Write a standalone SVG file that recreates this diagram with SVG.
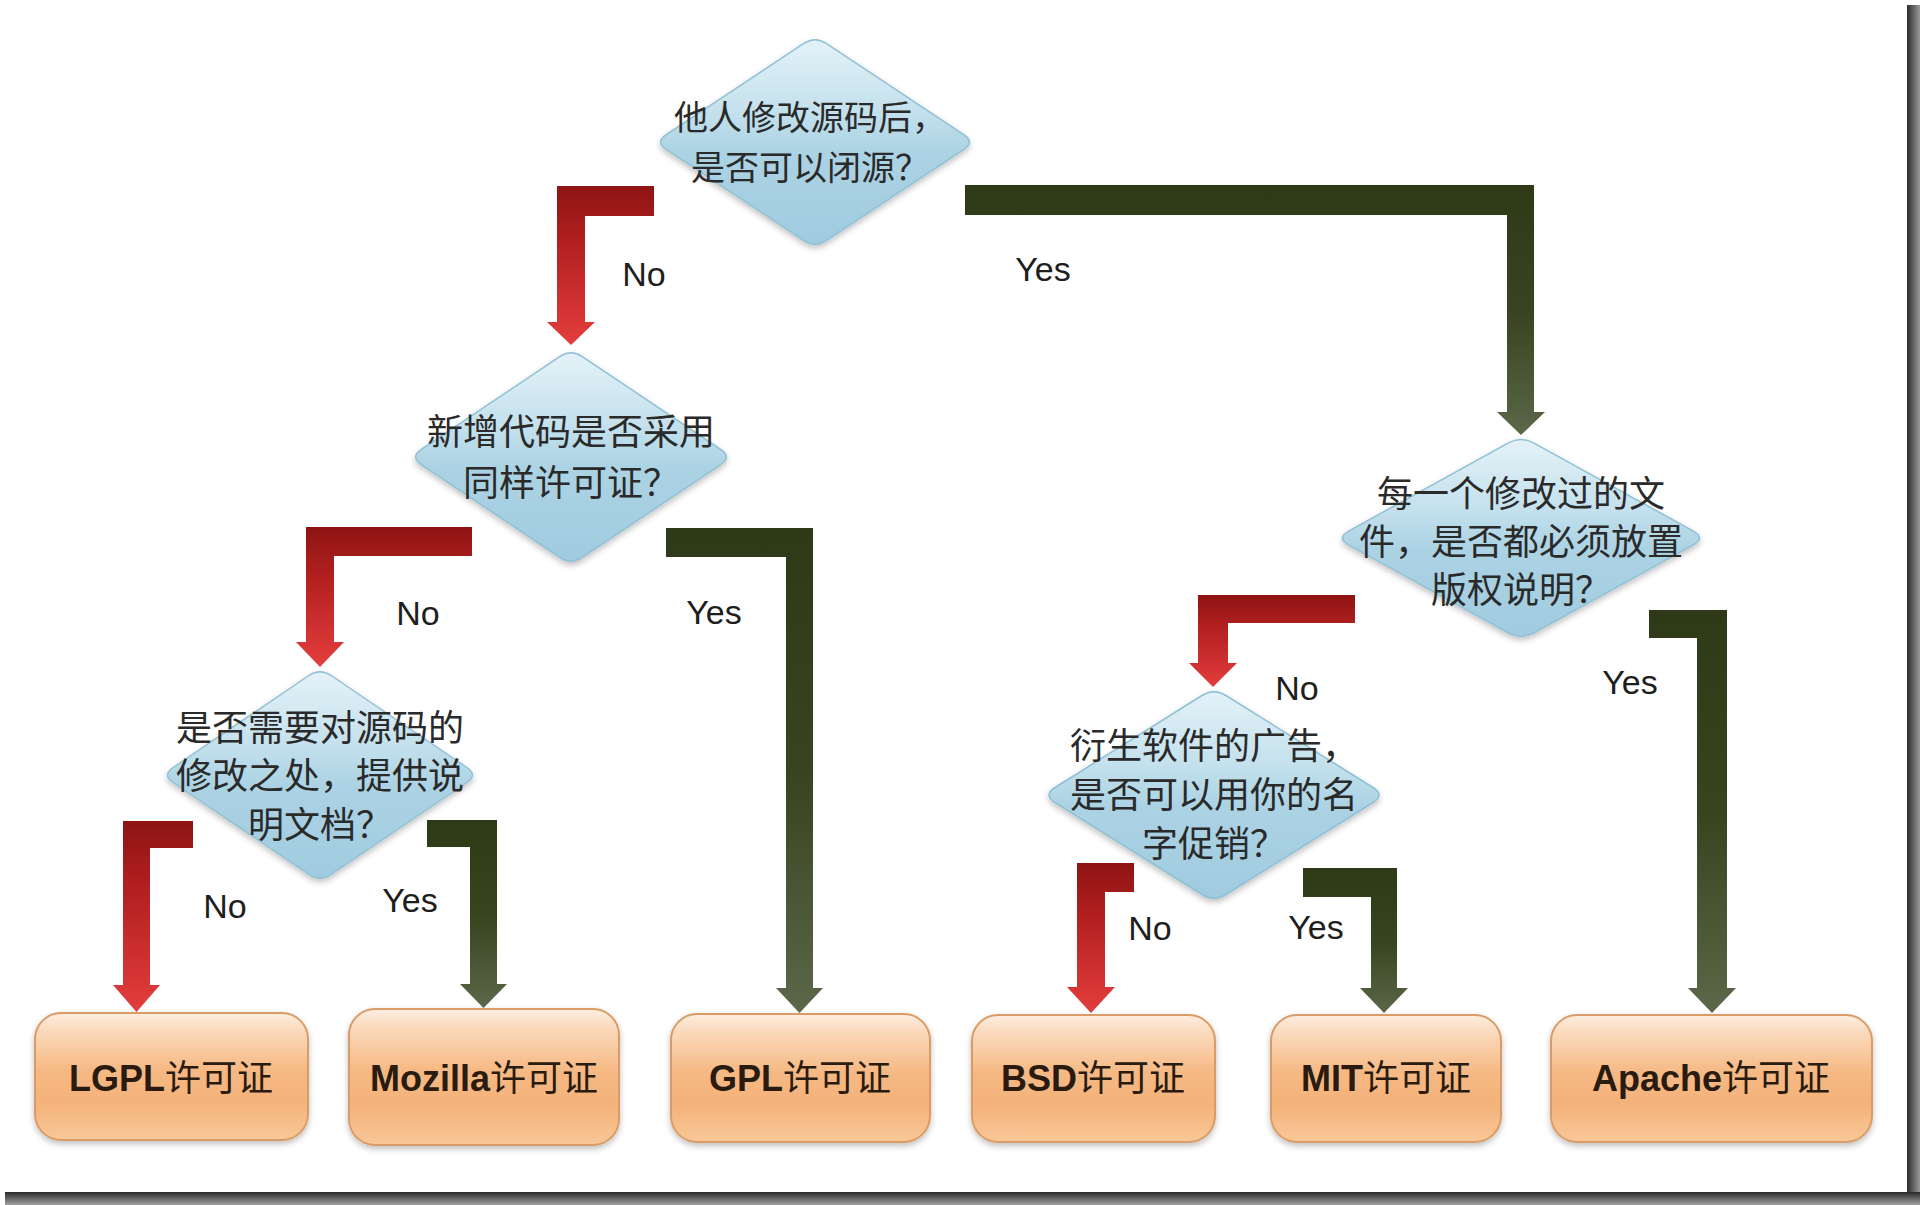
<svg xmlns="http://www.w3.org/2000/svg" width="1920" height="1205" viewBox="0 0 1920 1205">
<defs>
<linearGradient id="gRed" x1="0" y1="0" x2="0" y2="1">
<stop offset="0" stop-color="#8e1414"/>
<stop offset="0.35" stop-color="#b21f1f"/>
<stop offset="1" stop-color="#e43d3d"/>
</linearGradient>
<linearGradient id="gGreen" x1="0" y1="0" x2="0" y2="1">
<stop offset="0" stop-color="#2e3917"/>
<stop offset="0.5" stop-color="#38431f"/>
<stop offset="1" stop-color="#5a6849"/>
</linearGradient>
<linearGradient id="gDia" x1="0" y1="0" x2="0" y2="1">
<stop offset="0" stop-color="#e4f2f8"/>
<stop offset="0.35" stop-color="#c4e1ed"/>
<stop offset="0.55" stop-color="#acd3e4"/>
<stop offset="1" stop-color="#a0cbdf"/>
</linearGradient>
<linearGradient id="gBox" x1="0" y1="0" x2="0" y2="1">
<stop offset="0" stop-color="#fdeee0"/>
<stop offset="0.12" stop-color="#fbdcc0"/>
<stop offset="0.45" stop-color="#f6b984"/>
<stop offset="0.7" stop-color="#f4b27a"/>
<stop offset="1" stop-color="#f8c898"/>
</linearGradient>
<linearGradient id="gShR" x1="0" y1="0" x2="1" y2="0">
<stop offset="0" stop-color="#2a2a2a"/>
<stop offset="1" stop-color="#9a9a9a"/>
</linearGradient>
<linearGradient id="gShB" x1="0" y1="0" x2="0" y2="1">
<stop offset="0" stop-color="#2a2a2a"/>
<stop offset="1" stop-color="#a0a0a0"/>
</linearGradient>
<filter id="soft" x="-10%" y="-10%" width="120%" height="130%">
<feGaussianBlur in="SourceAlpha" stdDeviation="3"/>
<feOffset dx="0" dy="3" result="b"/>
<feComponentTransfer><feFuncA type="linear" slope="0.25"/></feComponentTransfer>
<feMerge><feMergeNode/><feMergeNode in="SourceGraphic"/></feMerge>
</filter>
</defs>
<style>
.dia{fill:url(#gDia);stroke:#8fc0d5;stroke-width:1.5}
.box{fill:url(#gBox);stroke:#d99c66;stroke-width:2}
.red{fill:url(#gRed)}
.green{fill:url(#gGreen)}
.q{font-family:"Noto Sans CJK SC","Noto Sans CJK TC",sans-serif;font-size:36px;fill:#2a2a2a;text-anchor:middle}
.lbl{font-family:"Liberation Sans",Arial,sans-serif;font-size:34px;fill:#1e1e1e;text-anchor:middle}
.bt{font-size:36px;fill:#2a1b10;text-anchor:middle}
.lat{font-family:"Liberation Sans",Arial,sans-serif;font-weight:bold}
.cjk{font-family:"Noto Sans CJK SC","Noto Sans CJK TC",sans-serif;font-weight:normal}
</style>
<rect x="0" y="0" width="1920" height="1205" fill="#ffffff"/>
<rect x="1907" y="5" width="13" height="1200" fill="url(#gShR)"/>
<rect x="5" y="1192" width="1915" height="13" fill="url(#gShB)"/>

<g id="connectors">
<path class="red" d="M654,186 L557,186 L557,322 L547,322 L571,345 L595,322 L585,322 L585,216 L654,216 Z"/>
<path class="green" d="M965,185 L1534,185 L1534,412 L1545,412 L1521,435 L1497,412 L1507,412 L1507,215 L965,215 Z"/>
<path class="red" d="M472,527 L306,527 L306,642 L296,642 L320,667 L344,642 L334,642 L334,556 L472,556 Z"/>
<path class="green" d="M666,528 L813,528 L813,988 L823,988 L799.5,1013 L776,988 L786,988 L786,557 L666,557 Z"/>
<path class="red" d="M193,821 L123,821 L123,985 L113,985 L136.5,1012 L160,985 L150,985 L150,848 L193,848 Z"/>
<path class="green" d="M427,820 L497,820 L497,984 L507,984 L483.5,1008 L460,984 L470,984 L470,847 L427,847 Z"/>
<path class="red" d="M1355,595 L1198,595 L1198,663 L1189,663 L1213,687 L1237,663 L1228,663 L1228,623 L1355,623 Z"/>
<path class="green" d="M1649,610 L1727,610 L1727,988 L1736,988 L1712,1013 L1688,988 L1697,988 L1697,638 L1649,638 Z"/>
<path class="red" d="M1134,863 L1077,863 L1077,987 L1067,987 L1091,1013 L1115,987 L1105,987 L1105,892 L1134,892 Z"/>
<path class="green" d="M1303,868 L1397,868 L1397,988 L1408,988 L1384,1013 L1360,988 L1371,988 L1371,897 L1303,897 Z"/>
<text class="lbl" x="644" y="286">No</text>
<text class="lbl" x="1043" y="281">Yes</text>
<text class="lbl" x="418" y="625">No</text>
<text class="lbl" x="714" y="624">Yes</text>
<text class="lbl" x="225" y="918">No</text>
<text class="lbl" x="410" y="912">Yes</text>
<text class="lbl" x="1297" y="700">No</text>
<text class="lbl" x="1630" y="694">Yes</text>
<text class="lbl" x="1150" y="940">No</text>
<text class="lbl" x="1316" y="939">Yes</text>
</g>

<g id="q1">
<path class="dia" filter="url(#soft)" d="M826.2,43.4 L963.8,134.6 Q975,142 963.8,149.4 L826.2,240.6 Q815,248 803.8,240.6 L666.2,149.4 Q655,142 666.2,134.6 L803.8,43.4 Q815,36 826.2,43.4 Z"/>
<text class="q" style="font-size:34px" x="810" y="130">他人修改源码后，</text>
<text class="q" style="font-size:34px" x="810" y="180">是否可以闭源？</text>
</g>

<g id="q2">
<path class="dia" filter="url(#soft)" d="M582.3,356.6 L720.7,449.4 Q732,457 720.7,464.6 L582.3,557.4 Q571,565 559.7,557.4 L421.3,464.6 Q410,457 421.3,449.4 L559.7,356.6 Q571,349 582.3,356.6 Z"/>
<text class="q" x="571" y="445">新增代码是否采用</text>
<text class="q" x="571" y="496">同样许可证？</text>
</g>

<g id="q3">
<path class="dia" filter="url(#soft)" d="M1534,443.1 L1693,530.9 Q1706,538 1693,545.1 L1534,632.9 Q1521,640 1508,632.9 L1349,545.1 Q1336,538 1349,530.9 L1508,443.1 Q1521,436 1534,443.1 Z"/>
<text class="q" x="1521" y="507">每一个修改过的文</text>
<text class="q" x="1521" y="555">件，是否都必须放置</text>
<text class="q" x="1521" y="603">版权说明？</text>
</g>

<g id="q4">
<path class="dia" filter="url(#soft)" d="M331.1,675.5 L466.9,767.5 Q478,775 466.9,782.5 L331.1,874.5 Q320,882 308.9,874.5 L173.1,782.5 Q162,775 173.1,767.5 L308.9,675.5 Q320,668 331.1,675.5 Z"/>
<text class="q" x="320" y="741">是否需要对源码的</text>
<text class="q" x="320" y="789">修改之处，提供说</text>
<text class="q" x="320" y="838">明文档？</text>
</g>

<g id="q5">
<path class="dia" filter="url(#soft)" d="M1226,695.5 L1373,787.5 Q1385,795 1373,802.5 L1226,894.5 Q1214,902 1202,894.5 L1055,802.5 Q1043,795 1055,787.5 L1202,695.5 Q1214,688 1226,695.5 Z"/>
<text class="q" x="1214" y="759">衍生软件的广告，</text>
<text class="q" x="1214" y="808">是否可以用你的名</text>
<text class="q" x="1214" y="857">字促销？</text>
</g>

<g id="lgpl">
<rect class="box" filter="url(#soft)" x="35" y="1013" width="273" height="127" rx="26"/>
<text class="bt" x="171" y="1091"><tspan class="lat">LGPL</tspan><tspan class="cjk">许可证</tspan></text>
</g>
<g id="mozilla">
<rect class="box" filter="url(#soft)" x="349" y="1009" width="270" height="136" rx="26"/>
<text class="bt" x="484" y="1091"><tspan class="lat">Mozilla</tspan><tspan class="cjk">许可证</tspan></text>
</g>
<g id="gpl">
<rect class="box" filter="url(#soft)" x="671" y="1014" width="259" height="128" rx="26"/>
<text class="bt" x="800" y="1091"><tspan class="lat">GPL</tspan><tspan class="cjk">许可证</tspan></text>
</g>
<g id="bsd">
<rect class="box" filter="url(#soft)" x="972" y="1015" width="243" height="127" rx="26"/>
<text class="bt" x="1093" y="1091"><tspan class="lat">BSD</tspan><tspan class="cjk">许可证</tspan></text>
</g>
<g id="mit">
<rect class="box" filter="url(#soft)" x="1271" y="1015" width="230" height="127" rx="26"/>
<text class="bt" x="1386" y="1091"><tspan class="lat">MIT</tspan><tspan class="cjk">许可证</tspan></text>
</g>
<g id="apache">
<rect class="box" filter="url(#soft)" x="1551" y="1015" width="321" height="127" rx="26"/>
<text class="bt" x="1711" y="1091"><tspan class="lat">Apache</tspan><tspan class="cjk">许可证</tspan></text>
</g>
</svg>
